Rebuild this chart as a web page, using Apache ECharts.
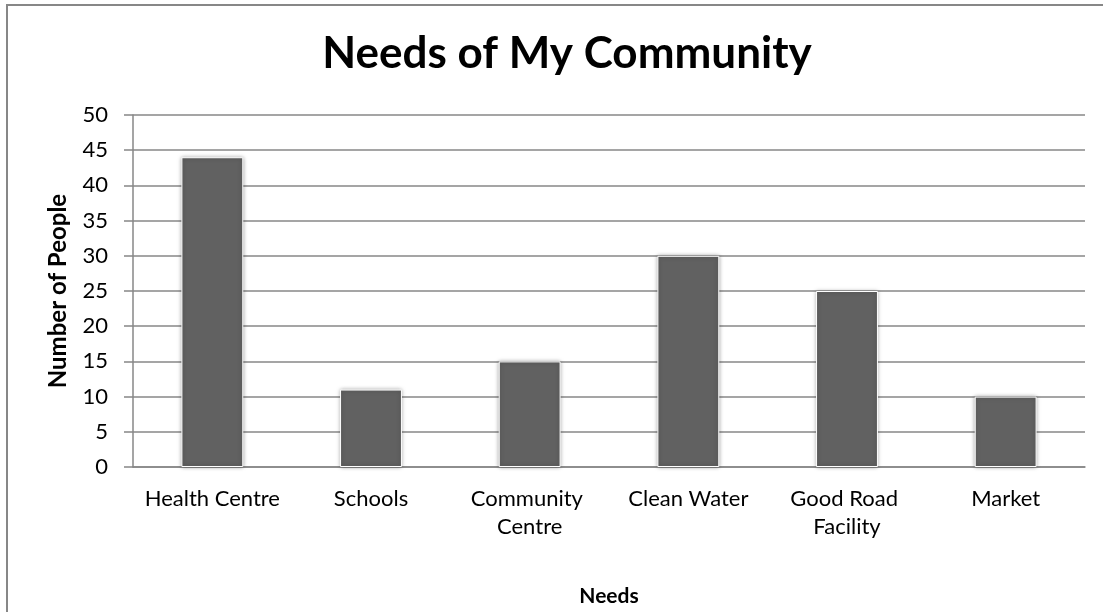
<!DOCTYPE html>
<html>
<head>
<meta charset="utf-8">
<script src="https://cdn.jsdelivr.net/npm/echarts@6/dist/echarts.min.js"></script>
<style>
html,body{margin:0;padding:0;background:#fff;overflow:hidden;}
#frame{position:absolute;left:6px;top:4px;width:1200px;height:700px;border-top:2px solid #878787;border-left:2px solid #878787;}
#chart{position:absolute;left:0;top:0;width:1103px;height:612px;}
</style>
</head>
<body>
<div id="frame"></div>
<div id="chart"></div>
<script>
const categories = ['Health Centre', 'Schools', 'Community Centre', 'Clean Water', 'Good Road Facility', 'Market'];
const values = [44, 11, 15, 30, 25, 10];
const titleText = 'Needs of My Community';
const xName = 'Needs';
const yName = 'Number of People';

const chart = echarts.init(document.getElementById('chart'));
const font = 'Lato, "Open Sans", sans-serif';
chart.setOption({
  animation: false,
  title: {
    text: titleText,
    left: 562, top: 27, textAlign: 'center',
    textStyle: {fontFamily: font, fontWeight: 'bold', fontSize: 44, color: '#000'}
  },
  grid: {left: 133, right: 18, top: 115, bottom: 144, containLabel: false},
  xAxis: {
    type: 'category',
    data: categories,
    name: xName,
    nameLocation: 'middle',
    nameGap: 119,
    nameTextStyle: {fontFamily: font, fontWeight: 'bold', fontSize: 21, color: '#000'},
    axisLine: {show: true, lineStyle: {color: '#878787', width: 1.5}},
    axisTick: {show: false},
    axisLabel: {fontFamily: font, fontSize: 22, color: '#000', margin: 18, width: 150, overflow: 'break', lineHeight: 28, interval: 0}
  },
  yAxis: {
    type: 'value',
    min: 0, max: 50, interval: 5,
    name: yName,
    nameLocation: 'middle',
    nameGap: 63,
    nameTextStyle: {fontFamily: font, fontWeight: 'bold', fontSize: 24, color: '#000'},
    axisLine: {show: true, lineStyle: {color: '#878787', width: 1.5}},
    axisTick: {show: true, length: 9, lineStyle: {color: '#878787', width: 1.5}},
    axisLabel: {fontFamily: font, fontSize: 22, color: '#000', margin: 25},
    splitLine: {show: true, lineStyle: {color: '#878787', width: 1.5}}
  },
  series: [{
    type: 'bar',
    data: values,
    barCategoryGap: '61%',
    itemStyle: {color: '#616161', borderColor: '#ffffff', borderWidth: 1, shadowBlur: 4, shadowColor: 'rgba(0,0,0,0.35)'}
  }]
});
</script>
</body>
</html>
